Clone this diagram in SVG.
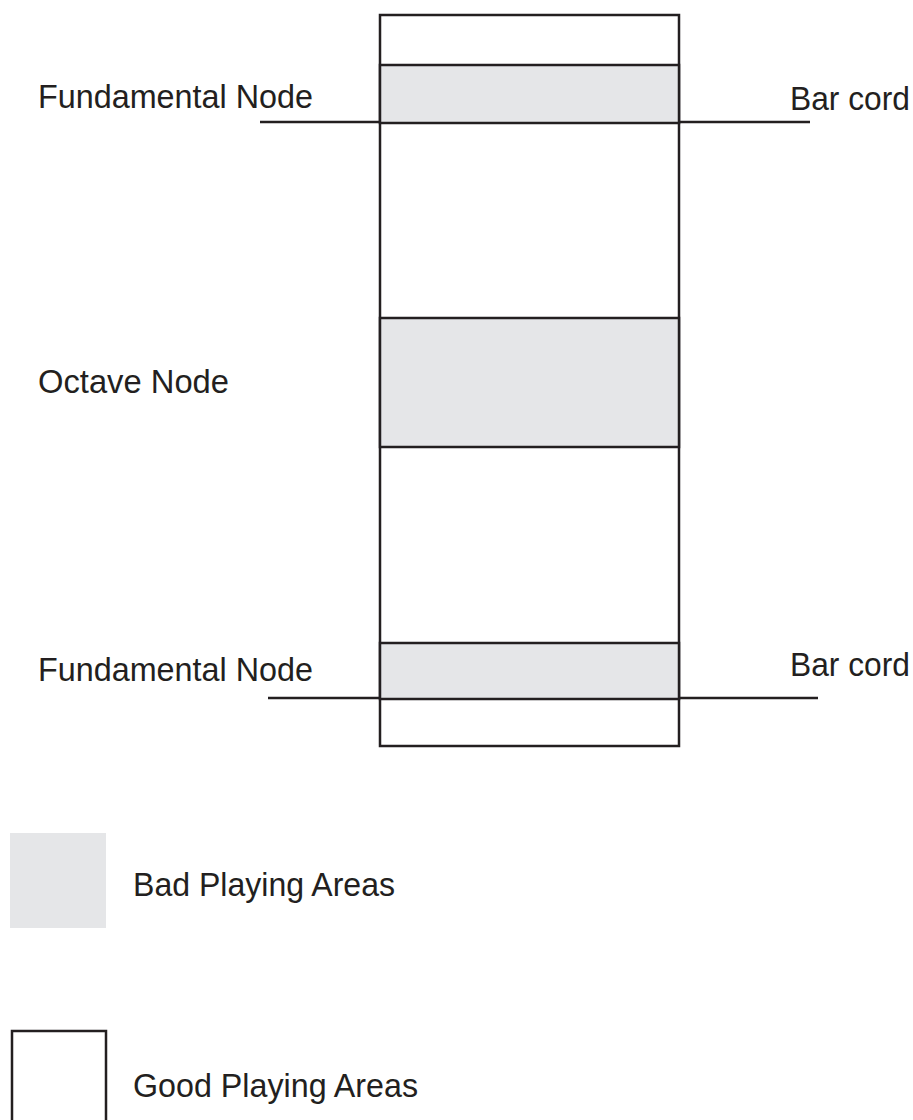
<svg xmlns="http://www.w3.org/2000/svg" width="913" height="1120" viewBox="0 0 913 1120">
<style>
.ln{stroke:#231f20;stroke-width:2.5;fill:none}
.bad{fill:#e5e6e8;stroke:#231f20;stroke-width:2.5}
.t{font-family:"Liberation Sans",Arial,sans-serif;font-size:32.5px;fill:#231f20}
</style>
<rect width="913" height="1120" fill="#fff"/>
<g id="bar">
<rect class="ln" x="380" y="15" width="299" height="731"/>
<rect id="fund-top" class="bad" x="380" y="65" width="299" height="58"/>
<rect id="octave" class="bad" x="380" y="318" width="299" height="129"/>
<rect id="fund-bottom" class="bad" x="380" y="643" width="299" height="56"/>
</g>
<g id="connectors">
<line class="ln" x1="260" y1="122" x2="380" y2="122"/>
<line class="ln" x1="679" y1="122" x2="810" y2="122"/>
<line class="ln" x1="268" y1="698" x2="380" y2="698"/>
<line class="ln" x1="679" y1="698" x2="818" y2="698"/>
</g>
<g id="labels">
<text class="t" x="38" y="108" textLength="275" lengthAdjust="spacingAndGlyphs">Fundamental Node</text>
<text class="t" x="790" y="110" textLength="120" lengthAdjust="spacingAndGlyphs">Bar cord</text>
<text class="t" x="38" y="393" textLength="191" lengthAdjust="spacingAndGlyphs">Octave Node</text>
<text class="t" x="38" y="681" textLength="275" lengthAdjust="spacingAndGlyphs">Fundamental Node</text>
<text class="t" x="790" y="676" textLength="120" lengthAdjust="spacingAndGlyphs">Bar cord</text>
</g>
<g id="legend-bad">
<rect x="10" y="833" width="96" height="95" fill="#e5e6e8"/>
<text class="t" x="133" y="896" textLength="262" lengthAdjust="spacingAndGlyphs">Bad Playing Areas</text>
</g>
<g id="legend-good">
<rect class="ln" x="12" y="1031" width="94" height="100"/>
<text class="t" x="133" y="1097" textLength="285" lengthAdjust="spacingAndGlyphs">Good Playing Areas</text>
</g>
</svg>
